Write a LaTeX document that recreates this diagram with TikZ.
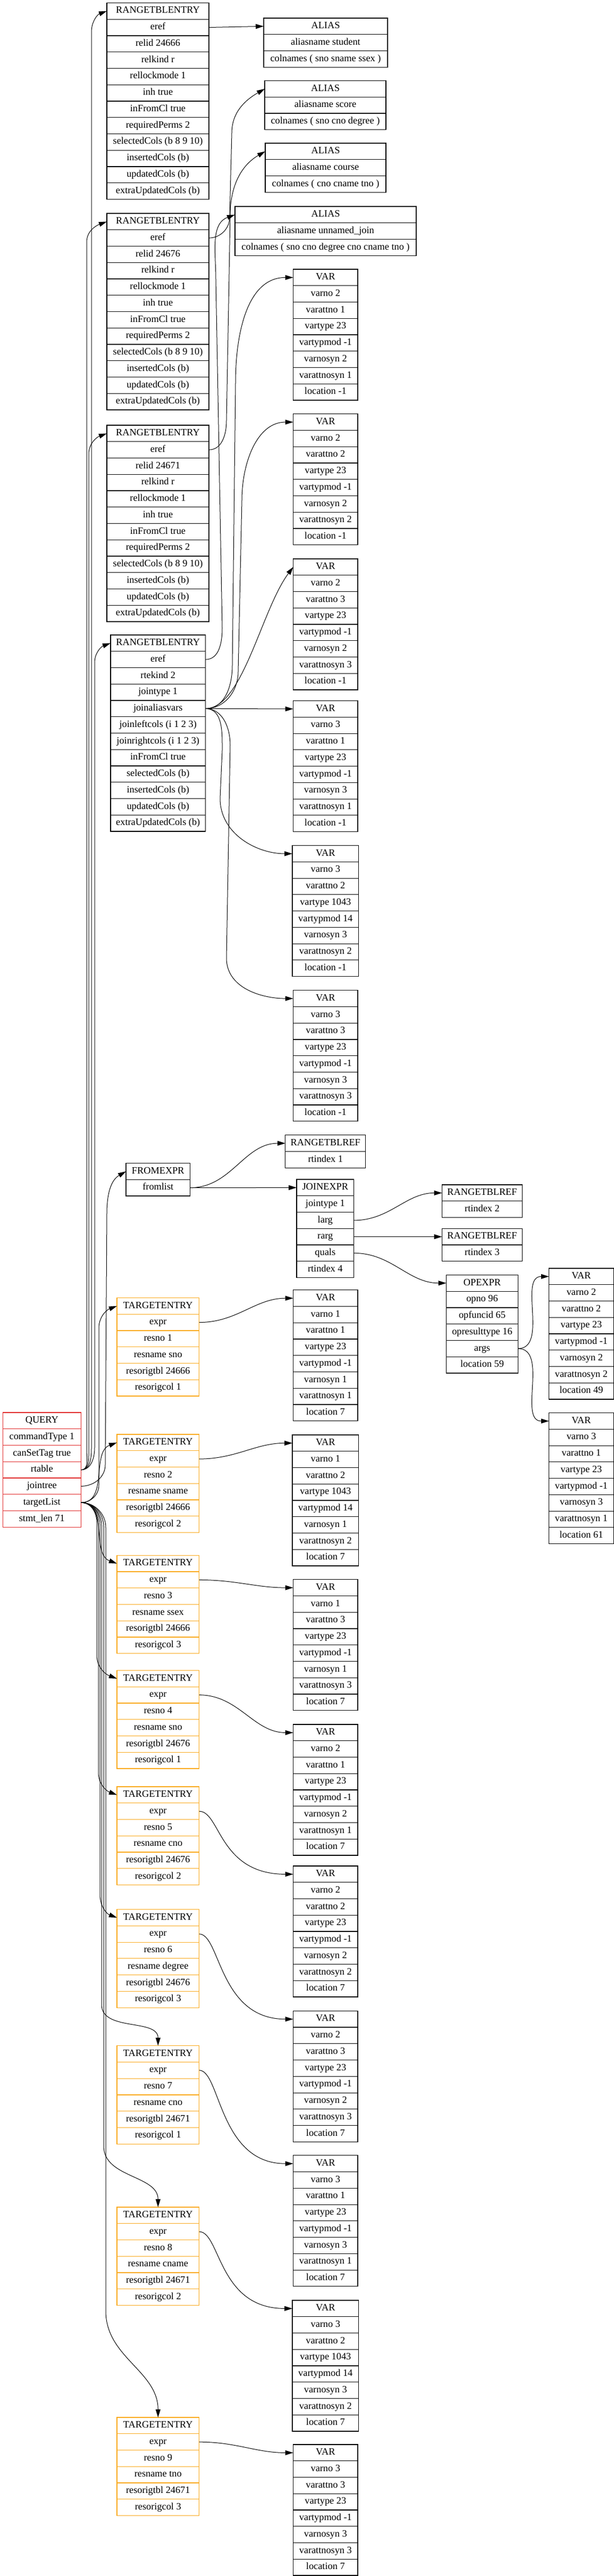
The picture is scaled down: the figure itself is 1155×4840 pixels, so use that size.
\documentclass[tikz,border=0pt]{standalone}
\usepackage{fontspec}
\setmainfont{Liberation Serif}
\usetikzlibrary{arrows.meta,positioning}

\definecolor{queryred}{RGB}{225,45,45}
\definecolor{teorange}{RGB}{250,170,30}

% record: name, style, width, top centre, header, fields
\newcommand{\recordbox}[6]{%
  \node[#2, minimum width=#3, anchor=north] (#1-0) at #4 {#5};
  \foreach \txt [count=\i, remember=\i as \j (initially 0)] in {#6}
    \node[#2, minimum width=#3, below=0pt of #1-\j] (#1-\i) {\txt};
}
% VAR record: name, top centre, varno, varattno, vartype, vartypmod, location, width
\newcommand{\varbox}[8]{%
  \recordbox{#1}{field}{#8}{#2}{VAR}{varno #3,varattno #4,vartype #5,vartypmod #6,varnosyn #3,varattnosyn #4,location #7}}

\begin{document}
\begin{tikzpicture}[x=1pt, y=1pt]
  % Define style for boxes
  \tikzset{
    field/.style={
      rectangle,
      draw=black,
      line width=1.2pt,
      fill=white,
      minimum height=30.75pt,
      inner sep=0pt,
      outer sep=0pt,
      text height=12.6pt,
      text depth=4.2pt,
      font=\fontsize{18.3}{22}\selectfont},
    queryfield/.style={field, draw=queryred},
    tefield/.style={field, draw=teorange},
    % Define arrow style
    ptr/.style={
      -{Triangle[length=15pt,width=9pt]},
      line width=1pt}
  }
  \useasboundingbox (0,0) rectangle (1155,-4840);

  % range table
  \recordbox{rte1}{field}{192pt}{(297,-5.4)}{RANGETBLENTRY}{eref,relid 24666,relkind r,rellockmode 1,inh true,inFromCl true,requiredPerms 2,selectedCols (b 8 9 10),insertedCols (b),updatedCols (b),extraUpdatedCols (b)}
  \recordbox{rte2}{field}{192pt}{(297,-401)}{RANGETBLENTRY}{eref,relid 24676,relkind r,rellockmode 1,inh true,inFromCl true,requiredPerms 2,selectedCols (b 8 9 10),insertedCols (b),updatedCols (b),extraUpdatedCols (b)}
  \recordbox{rte3}{field}{192pt}{(297,-799)}{RANGETBLENTRY}{eref,relid 24671,relkind r,rellockmode 1,inh true,inFromCl true,requiredPerms 2,selectedCols (b 8 9 10),insertedCols (b),updatedCols (b),extraUpdatedCols (b)}
  \recordbox{rte4}{field}{178.5pt}{(297.25,-1193)}{RANGETBLENTRY}{eref,rtekind 2,jointype 1,joinaliasvars,joinleftcols (i 1 2 3),joinrightcols (i 1 2 3),inFromCl true,selectedCols (b),insertedCols (b),updatedCols (b),extraUpdatedCols (b)}

  % aliases
  \recordbox{alias1}{field}{233pt}{(612.5,-34)}{ALIAS}{aliasname student,colnames ( sno sname ssex )}
  \recordbox{alias2}{field}{228pt}{(612,-151.5)}{ALIAS}{aliasname score,colnames ( sno cno degree )}
  \recordbox{alias3}{field}{227pt}{(612.5,-269)}{ALIAS}{aliasname course,colnames ( cno cname tno )}
  \recordbox{alias4}{field}{341pt}{(612.5,-388)}{ALIAS}{aliasname unnamed\_join,colnames ( sno cno degree cno cname tno )}

  % join alias vars
  \varbox{jvar1}{(612.3,-506)}{2}{1}{23}{-1}{-1}{121.5pt}
  \varbox{jvar2}{(612.3,-777.7)}{2}{2}{23}{-1}{-1}{121.5pt}
  \varbox{jvar3}{(612.3,-1050)}{2}{3}{23}{-1}{-1}{121.5pt}
  \varbox{jvar4}{(612.3,-1316.6)}{3}{1}{23}{-1}{-1}{121.5pt}
  \varbox{jvar5}{(612.3,-1588.6)}{3}{2}{1043}{14}{-1}{124.5pt}
  \varbox{jvar6}{(612.3,-1860.7)}{3}{3}{23}{-1}{-1}{121.5pt}

  % join tree
  \recordbox{rtref1}{field}{151pt}{(612.3,-2132.7)}{RANGETBLREF}{rtindex 1}
  \recordbox{fromexpr}{field}{120.6pt}{(297.3,-2185.5)}{FROMEXPR}{fromlist}
  \recordbox{joinexpr}{field}{107.6pt}{(611.8,-2216)}{JOINEXPR}{jointype 1,larg,rarg,quals,rtindex 4}
  \recordbox{rtref2}{field}{151pt}{(907,-2226)}{RANGETBLREF}{rtindex 2}
  \recordbox{rtref3}{field}{151pt}{(907,-2308.25)}{RANGETBLREF}{rtindex 3}
  \recordbox{opexpr}{field}{134.8pt}{(907,-2395.4)}{OPEXPR}{opno 96,opfuncid 65,opresulttype 16,args,location 59}
  \varbox{avar1}{(1093.5,-2383)}{2}{2}{23}{-1}{49}{121.5pt}
  \varbox{avar2}{(1093.5,-2654.6)}{3}{1}{23}{-1}{61}{121.5pt}

  % query
  \recordbox{query}{queryfield}{147.3pt}{(78.8,-2654)}{QUERY}{commandType 1,canSetTag true,rtable,jointree,targetList,stmt\_len 71}

  % target list
  \recordbox{te1}{tefield}{154.6pt}{(297.3,-2438.5)}{TARGETENTRY}{expr,resno 1,resname sno,resorigtbl 24666,resorigcol 1}
  \recordbox{te2}{tefield}{154.6pt}{(297.3,-2695)}{TARGETENTRY}{expr,resno 2,resname sname,resorigtbl 24666,resorigcol 2}
  \recordbox{te3}{tefield}{154.6pt}{(297.3,-2922.3)}{TARGETENTRY}{expr,resno 3,resname ssex,resorigtbl 24666,resorigcol 3}
  \recordbox{te4}{tefield}{154.6pt}{(297.3,-3138.5)}{TARGETENTRY}{expr,resno 4,resname sno,resorigtbl 24676,resorigcol 1}
  \recordbox{te5}{tefield}{154.6pt}{(297.3,-3357)}{TARGETENTRY}{expr,resno 5,resname cno,resorigtbl 24676,resorigcol 2}
  \recordbox{te6}{tefield}{154.6pt}{(297.3,-3587.6)}{TARGETENTRY}{expr,resno 6,resname degree,resorigtbl 24676,resorigcol 3}
  \recordbox{te7}{tefield}{154.6pt}{(297.3,-3843.6)}{TARGETENTRY}{expr,resno 7,resname cno,resorigtbl 24671,resorigcol 1}
  \recordbox{te8}{tefield}{154.6pt}{(297.3,-4146.9)}{TARGETENTRY}{expr,resno 8,resname cname,resorigtbl 24671,resorigcol 2}
  \recordbox{te9}{tefield}{154.6pt}{(297.3,-4542)}{TARGETENTRY}{expr,resno 9,resname tno,resorigtbl 24671,resorigcol 3}

  \varbox{tvar1}{(612.3,-2423.8)}{1}{1}{23}{-1}{7}{121.5pt}
  \varbox{tvar2}{(612.3,-2696)}{1}{2}{1043}{14}{7}{124.5pt}
  \varbox{tvar3}{(612.3,-2967.7)}{1}{3}{23}{-1}{7}{121.5pt}
  \varbox{tvar4}{(612.3,-3240)}{2}{1}{23}{-1}{7}{121.5pt}
  \varbox{tvar5}{(612.3,-3506)}{2}{2}{23}{-1}{7}{121.5pt}
  \varbox{tvar6}{(612.3,-3778.3)}{2}{3}{23}{-1}{7}{121.5pt}
  \varbox{tvar7}{(612.3,-4049.8)}{3}{1}{23}{-1}{7}{121.5pt}
  \varbox{tvar8}{(612.3,-4322)}{3}{2}{1043}{14}{7}{124.5pt}
  \varbox{tvar9}{(612.3,-4593)}{3}{3}{23}{-1}{7}{121.5pt}

  % rtable
  \draw[ptr] (query-3.east) to[out=0,in=-90] (172,-2722) -- (172,-60) to[out=90,in=200] (rte1-0.west);
  \draw[ptr] (query-3.east) to[out=0,in=-90] (163,-2724) -- (163,-455) to[out=90,in=200] (rte2-0.west);
  \draw[ptr] (query-3.east) to[out=0,in=-90] (167,-2723) -- (167,-853) to[out=90,in=200] (rte3-0.west);
  \draw[ptr] (query-3.east) to[out=0,in=-90] (178,-2720) -- (178,-1245) to[out=90,in=200] (rte4-0.west);
  % jointree
  \draw[ptr] (query-4.east) to[out=0,in=-90] (198,-2752) -- (201,-2280) to[out=90,in=210] (fromexpr-0.west);
  % targetList
  \draw[ptr] (query-5.east) to[out=0,in=-90] (186,-2790) -- (186,-2495) to[out=90,in=200] (te1-0.west);
  \draw[ptr] (query-5.east) to[out=0,in=200] (te2-0.west);
  \draw[ptr] (query-5.east) to[out=0,in=160] (te3-0.west);
  \draw[ptr] (query-5.east) to[out=0,in=90] (182,-2860) -- (182,-3110) to[out=-90,in=160] (te4-0.west);
  \draw[ptr] (query-5.east) to[out=0,in=90] (185,-2862) -- (185,-3330) to[out=-90,in=160] (te5-0.west);
  \draw[ptr] (query-5.east) to[out=0,in=90] (188,-2864) -- (188,-3560) to[out=-90,in=160] (te6-0.west);
  \draw[ptr] (query-5.east) to[out=0,in=90] (191,-2866) -- (191,-3766) to[out=-90,in=90] (te7-0.north);
  \draw[ptr] (query-5.east) to[out=0,in=90] (195,-2868) -- (195,-4032) to[out=-90,in=90] (te8-0.north);
  \draw[ptr] (query-5.east) to[out=0,in=90] (199,-2870) -- (199,-4342) to[out=-90,in=90] (te9-0.north);

  % eref
  \draw[ptr] (rte1-1.east) -- (alias1-0.west);
  \draw[ptr] (rte2-1.east) to[out=0,in=-90] (432,-408) -- (436,-250) to[out=90,in=210] (alias2-0.west);
  \draw[ptr] (rte3-1.east) to[out=0,in=-90] (426,-790) -- (433,-405) to[out=90,in=210] (alias3-0.west);
  \draw[ptr] (rte4-1.east) to[out=0,in=-90] (418,-1180) -- (406,-525) to[out=90,in=200] (alias4-0.west);

  % joinaliasvars
  \draw[ptr] (rte4-4.east) to[out=0,in=-90] (437,-1250) -- (443,-720) to[out=90,in=180] (jvar1-0.west);
  \draw[ptr] (rte4-4.east) to[out=0,in=-90] (448,-1262) -- (455,-940) to[out=90,in=180] (jvar2-0.west);
  \draw[ptr] (rte4-4.east) .. controls +(70,0) and +(-60,-80) .. (jvar3-0.west);
  \draw[ptr] (rte4-4.east) -- (jvar4-0.west);
  \draw[ptr] (rte4-4.east) to[out=0,in=90] (418,-1410) -- (414,-1500) to[out=-90,in=180] (jvar5-0.west);
  \draw[ptr] (rte4-4.east) to[out=0,in=90] (433,-1400) -- (426,-1800) to[out=-90,in=180] (jvar6-0.west);

  % from / join expressions
  \draw[ptr] (fromexpr-1.east) to[out=0,in=180] (rtref1-0.west);
  \draw[ptr] (fromexpr-1.east) -- (joinexpr-0.west);
  \draw[ptr] (joinexpr-2.east) to[out=0,in=180] (rtref2-0.west);
  \draw[ptr] (joinexpr-3.east) -- (rtref3-0.west);
  \draw[ptr] (joinexpr-4.east) to[out=0,in=180] (opexpr-0.west);
  \draw[ptr] (opexpr-4.east) to[out=0,in=180] (avar1-0.west);
  \draw[ptr] (opexpr-4.east) to[out=0,in=180] (avar2-0.west);

  % expr
  \draw[ptr] (te1-1.east) to[out=0,in=180] (tvar1-0.west);
  \draw[ptr] (te2-1.east) to[out=0,in=180] (tvar2-0.west);
  \draw[ptr] (te3-1.east) to[out=0,in=180] (tvar3-0.west);
  \draw[ptr] (te4-1.east) to[out=0,in=180] (tvar4-0.west);
  \draw[ptr] (te5-1.east) .. controls +(40,0) and +(-140,0) .. (tvar5-0.west);
  \draw[ptr] (te6-1.east) .. controls +(40,0) and +(-140,0) .. (tvar6-0.west);
  \draw[ptr] (te7-1.east) .. controls +(40,0) and +(-140,0) .. (tvar7-0.west);
  \draw[ptr] (te8-1.east) .. controls +(40,0) and +(-140,0) .. (tvar8-0.west);
  \draw[ptr] (te9-1.east) to[out=0,in=180] (tvar9-0.west);
\end{tikzpicture}
\end{document}
